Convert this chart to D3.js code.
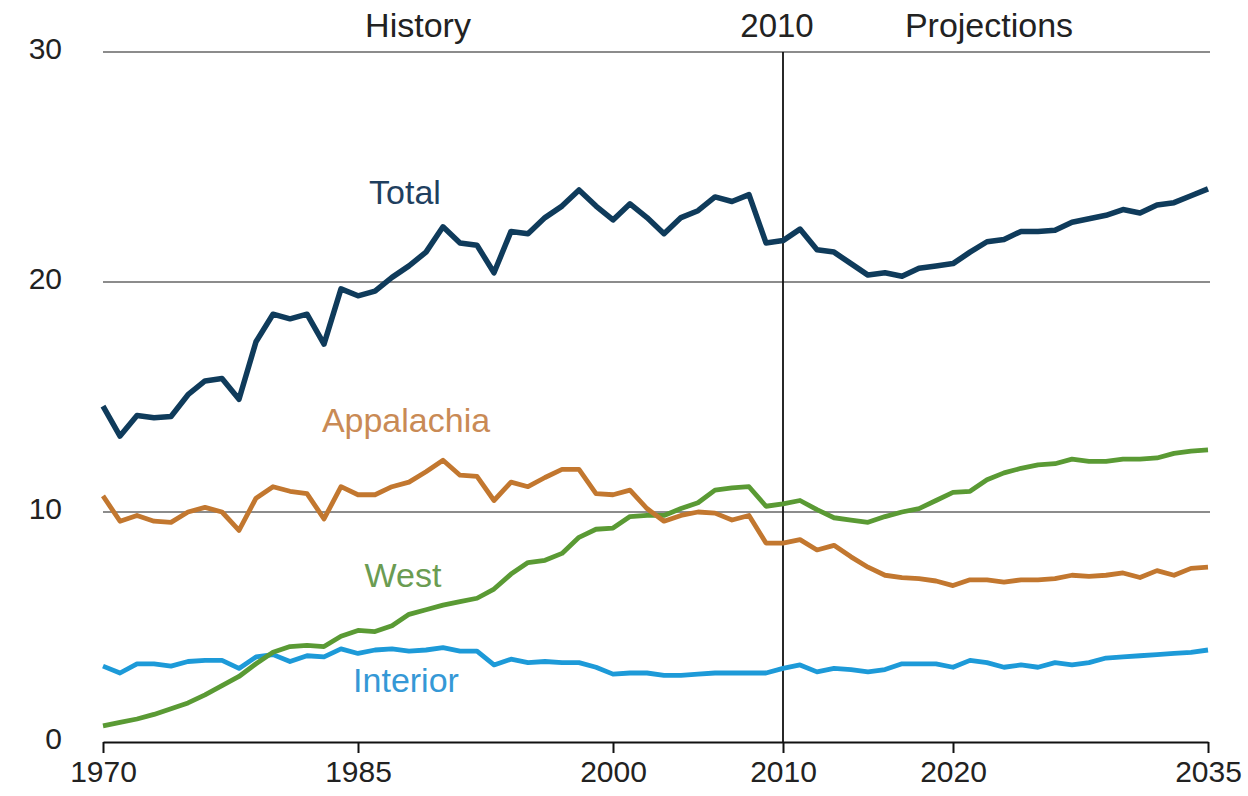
<!DOCTYPE html>
<html>
<head>
<meta charset="utf-8">
<script src="https://cdn.jsdelivr.net/npm/d3@7"></script>
<style>
  html, body { margin: 0; padding: 0; background: #ffffff; }
  svg { display: block; font-family: "Liberation Sans", Arial, sans-serif; }
</style>
</head>
<body>
<svg id="chart" width="1248" height="796"></svg>
<script>
const years = d3.range(1970, 2036);

const total = [14.6, 13.3, 14.2, 14.1, 14.15, 15.1, 15.7, 15.8, 14.9, 17.4,
  18.6, 18.4, 18.6, 17.3, 19.7, 19.4, 19.6, 20.2, 20.7, 21.3,
  22.4, 21.7, 21.6, 20.4, 22.2, 22.1, 22.8, 23.3, 24.0, 23.3,
  22.7, 23.4, 22.8, 22.1, 22.8, 23.1, 23.7, 23.5, 23.8, 21.7,
  21.8, 22.3, 21.4, 21.3, 20.8, 20.3, 20.4, 20.25, 20.6, 20.7,
  20.8, 21.3, 21.75, 21.85, 22.2, 22.2, 22.25, 22.6, 22.75, 22.9,
  23.15, 23.0, 23.35, 23.45, 23.75, 24.05];

const appalachia = [10.7, 9.6, 9.85, 9.6, 9.55, 10.0, 10.2, 10.0, 9.2, 10.6,
  11.1, 10.9, 10.8, 9.7, 11.1, 10.75, 10.75, 11.1, 11.3, 11.75,
  12.25, 11.6, 11.55, 10.5, 11.3, 11.1, 11.5, 11.85, 11.85, 10.8,
  10.75, 10.95, 10.15, 9.6, 9.85, 10.0, 9.95, 9.65, 9.85, 8.65,
  8.65, 8.8, 8.35, 8.55, 8.05, 7.6, 7.25, 7.15, 7.1, 7.0,
  6.8, 7.05, 7.05, 6.95, 7.05, 7.05, 7.1, 7.25, 7.2, 7.25,
  7.35, 7.15, 7.45, 7.25, 7.55, 7.6];

const west = [0.7, 0.85, 1.0, 1.2, 1.45, 1.7, 2.05, 2.45, 2.85, 3.4,
  3.9, 4.15, 4.2, 4.15, 4.6, 4.85, 4.8, 5.05, 5.55, 5.75,
  5.95, 6.1, 6.25, 6.65, 7.3, 7.8, 7.9, 8.2, 8.9, 9.25,
  9.3, 9.8, 9.85, 9.85, 10.15, 10.4, 10.95, 11.05, 11.1, 10.25,
  10.35, 10.5, 10.1, 9.75, 9.65, 9.55, 9.8, 10.0, 10.15, 10.5,
  10.85, 10.9, 11.4, 11.7, 11.9, 12.05, 12.1, 12.3, 12.2, 12.2,
  12.3, 12.3, 12.35, 12.55, 12.65, 12.7];

const interior = [3.3, 3.0, 3.4, 3.4, 3.3, 3.5, 3.55, 3.55, 3.2, 3.7,
  3.8, 3.5, 3.75, 3.7, 4.05, 3.85, 4.0, 4.05, 3.95, 4.0,
  4.1, 3.95, 3.95, 3.35, 3.6, 3.45, 3.5, 3.45, 3.45, 3.25,
  2.95, 3.0, 3.0, 2.9, 2.9, 2.95, 3.0, 3.0, 3.0, 3.0,
  3.2, 3.35, 3.05, 3.2, 3.15, 3.05, 3.15, 3.4, 3.4, 3.4,
  3.25, 3.55, 3.45, 3.25, 3.35, 3.25, 3.45, 3.35, 3.45, 3.65,
  3.7, 3.75, 3.8, 3.85, 3.9, 4.0];

const xTickYears = [1970, 1985, 2000, 2010, 2020, 2035];
const yTickValues = [0, 10, 20, 30];
const dividerYear = 2010;

const seriesNames = ["Total", "Appalachia", "West", "Interior"];
const seriesValues = [total, appalachia, west, interior];
const lineColors = ["#0f3b5b", "#c2772f", "#5a9a34", "#1d9ad8"];
const labelColors = ["#1f3f5f", "#c98a55", "#6b9c52", "#3598d6"];
const lineWidths = [5.5, 4.8, 4.8, 4.8];
const labelPos = [[405, 204], [406, 432], [403, 587], [406, 692]];

const svg = d3.select("#chart");
const margin = { left: 103, right: 40, top: 52, bottom: 54 };
const W = 1248, H = 796;

const x = d3.scaleLinear().domain([1970, 2035]).range([margin.left, W - margin.right]);
const y = d3.scaleLinear().domain([0, 30]).range([H - margin.bottom, margin.top]);

// gridlines
svg.append("g").selectAll("line")
  .data(yTickValues.filter(v => v > 0))
  .join("line")
  .attr("x1", x(1970)).attr("x2", x(2035) + 2)
  .attr("y1", d => y(d)).attr("y2", d => y(d))
  .attr("stroke", "#8c8c8c").attr("stroke-width", 1.8);

// y labels
svg.append("g").selectAll("text")
  .data(yTickValues)
  .join("text")
  .attr("x", 62).attr("y", d => y(d) - 1)
  .attr("text-anchor", "end")
  .attr("dominant-baseline", "middle")
  .attr("font-size", 30)
  .attr("fill", "#222")
  .text(d => d);

// x axis
const xAxis = d3.axisBottom(x)
  .tickValues(xTickYears)
  .tickFormat(d3.format("d"))
  .tickSize(11)
  .tickPadding(8)
  .tickSizeOuter(0);
const gx = svg.append("g").attr("transform", `translate(0,${y(0)})`).call(xAxis);
gx.select(".domain").attr("stroke", "#111").attr("stroke-width", 2);
gx.selectAll(".tick line").attr("stroke", "#111").attr("stroke-width", 2);
gx.selectAll(".tick text").attr("font-size", 30).attr("fill", "#222")
  .attr("font-family", "'Liberation Sans', Arial, sans-serif");

// divider line
svg.append("line")
  .attr("x1", x(dividerYear)).attr("x2", x(dividerYear))
  .attr("y1", y(30)).attr("y2", y(0))
  .attr("stroke", "#111").attr("stroke-width", 1.8);

// header labels
svg.append("text").attr("x", 418).attr("y", 37).attr("text-anchor", "middle")
  .attr("font-size", 34).attr("fill", "#222").text("History");
svg.append("text").attr("x", x(dividerYear) - 6).attr("y", 37).attr("text-anchor", "middle")
  .attr("font-size", 33).attr("fill", "#222").text("2010");
svg.append("text").attr("x", 989).attr("y", 37).attr("text-anchor", "middle")
  .attr("font-size", 34).attr("fill", "#222").text("Projections");

// lines
const line = d3.line().x((d, i) => x(years[i])).y(d => y(d)).curve(d3.curveLinear);
[3, 2, 1, 0].forEach(k => {
  svg.append("path")
    .datum(seriesValues[k])
    .attr("d", line)
    .attr("fill", "none")
    .attr("stroke", lineColors[k])
    .attr("stroke-width", lineWidths[k])
    .attr("stroke-linejoin", "round")
    .attr("stroke-linecap", "butt");
});

// series labels
seriesNames.forEach((name, k) => {
  svg.append("text")
    .attr("x", labelPos[k][0]).attr("y", labelPos[k][1])
    .attr("text-anchor", "middle")
    .attr("font-size", 34)
    .attr("fill", labelColors[k])
    .text(name);
});
</script>
</body>
</html>
